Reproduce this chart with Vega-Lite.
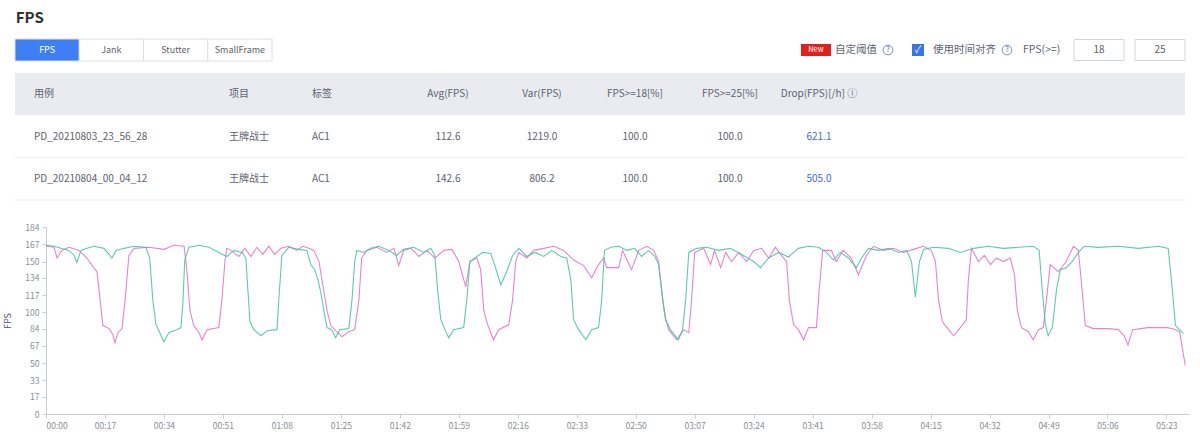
{
  "$schema": "https://vega.github.io/schema/vega-lite/v6.json",
  "background": "#ffffff",
  "padding": {"left": 3, "top": 10, "right": 6, "bottom": 2},
  "config": {"font": "Noto Sans CJK SC", "view": {"stroke": null}},
  "title": {"text": "FPS", "anchor": "start", "fontSize": 15, "fontWeight": "bold", "color": "#303133", "dx": 12, "offset": 12},
  "spacing": 10,
  "datasets": {
    "tabs": [
      {"tab": "FPS", "active": true},
      {"tab": "Jank", "active": false},
      {"tab": "Stutter", "active": false},
      {"tab": "SmallFrame", "active": false}
    ],
    "controls": [
      {"k": 0, "kind": "badge", "label": "New"},
      {"k": 1, "kind": "label", "label": "自定阈值"},
      {"k": 2, "kind": "info", "label": "?"},
      {"k": 3, "kind": "check", "label": "✓"},
      {"k": 4, "kind": "label", "label": "使用时间对齐"},
      {"k": 5, "kind": "info", "label": "?"},
      {"k": 6, "kind": "label", "label": "FPS(>=)"},
      {"k": 7, "kind": "box", "label": "18"},
      {"k": 8, "kind": "box", "label": "25"}
    ],
    "rows": [{"row": "header"}, {"row": "r1"}, {"row": "r2"}],
    "cells": [
      {"row": "header", "col": 0, "label": "用例"},
      {"row": "header", "col": 1, "label": "项目"},
      {"row": "header", "col": 2, "label": "标签"},
      {"row": "header", "col": 3, "label": "Avg(FPS)"},
      {"row": "header", "col": 4, "label": "Var(FPS)"},
      {"row": "header", "col": 5, "label": "FPS>=18[%]"},
      {"row": "header", "col": 6, "label": "FPS>=25[%]"},
      {"row": "header", "col": 7, "label": "Drop(FPS)[/h] ⓘ"},
      {"row": "r1", "col": 0, "label": "PD_20210803_23_56_28"},
      {"row": "r1", "col": 1, "label": "王牌战士"},
      {"row": "r1", "col": 2, "label": "AC1"},
      {"row": "r1", "col": 3, "label": "112.6"},
      {"row": "r1", "col": 4, "label": "1219.0"},
      {"row": "r1", "col": 5, "label": "100.0"},
      {"row": "r1", "col": 6, "label": "100.0"},
      {"row": "r1", "col": 7, "label": "621.1"},
      {"row": "r2", "col": 0, "label": "PD_20210804_00_04_12"},
      {"row": "r2", "col": 1, "label": "王牌战士"},
      {"row": "r2", "col": 2, "label": "AC1"},
      {"row": "r2", "col": 3, "label": "142.6"},
      {"row": "r2", "col": 4, "label": "806.2"},
      {"row": "r2", "col": 5, "label": "100.0"},
      {"row": "r2", "col": 6, "label": "100.0"},
      {"row": "r2", "col": 7, "label": "505.0"}
    ],
    "fps": [
      {"run": "20210803", "time": 0, "fps": 165}, {"run": "20210803", "time": 2.3, "fps": 164}, {"run": "20210803", "time": 3.2, "fps": 153.5}, {"run": "20210803", "time": 4.6, "fps": 161}, {"run": "20210803", "time": 6.6, "fps": 164}, {"run": "20210803", "time": 9.5, "fps": 161}, {"run": "20210803", "time": 11.8, "fps": 153.5}, {"run": "20210803", "time": 13.3, "fps": 146}, {"run": "20210803", "time": 14.7, "fps": 140}, {"run": "20210803", "time": 15.6, "fps": 112}, {"run": "20210803", "time": 16.4, "fps": 87}, {"run": "20210803", "time": 18.2, "fps": 84}, {"run": "20210803", "time": 19.3, "fps": 78}, {"run": "20210803", "time": 19.9, "fps": 70}, {"run": "20210803", "time": 20.7, "fps": 80}, {"run": "20210803", "time": 21.9, "fps": 84}, {"run": "20210803", "time": 22.8, "fps": 112}, {"run": "20210803", "time": 23.9, "fps": 156}, {"run": "20210803", "time": 25.4, "fps": 163}, {"run": "20210803", "time": 29.7, "fps": 164}, {"run": "20210803", "time": 34, "fps": 162}, {"run": "20210803", "time": 36.9, "fps": 166}, {"run": "20210803", "time": 39.8, "fps": 165}, {"run": "20210803", "time": 40.6, "fps": 142}, {"run": "20210803", "time": 41.5, "fps": 102}, {"run": "20210803", "time": 42.6, "fps": 87}, {"run": "20210803", "time": 44.1, "fps": 80}, {"run": "20210803", "time": 45, "fps": 73}, {"run": "20210803", "time": 46.4, "fps": 83}, {"run": "20210803", "time": 49.8, "fps": 85}, {"run": "20210803", "time": 50.7, "fps": 112}, {"run": "20210803", "time": 51.6, "fps": 151}, {"run": "20210803", "time": 52.1, "fps": 163}, {"run": "20210803", "time": 53.3, "fps": 161}, {"run": "20210803", "time": 55.6, "fps": 155}, {"run": "20210803", "time": 57.3, "fps": 163}, {"run": "20210803", "time": 59.1, "fps": 155}, {"run": "20210803", "time": 60.8, "fps": 164}, {"run": "20210803", "time": 62.5, "fps": 157}, {"run": "20210803", "time": 64.2, "fps": 165}, {"run": "20210803", "time": 65.9, "fps": 157}, {"run": "20210803", "time": 67.7, "fps": 163}, {"run": "20210803", "time": 70, "fps": 165}, {"run": "20210803", "time": 72.3, "fps": 161}, {"run": "20210803", "time": 74, "fps": 165}, {"run": "20210803", "time": 75.8, "fps": 163}, {"run": "20210803", "time": 77.2, "fps": 161}, {"run": "20210803", "time": 78.7, "fps": 150}, {"run": "20210803", "time": 79.8, "fps": 127}, {"run": "20210803", "time": 81, "fps": 102}, {"run": "20210803", "time": 82.1, "fps": 87}, {"run": "20210803", "time": 83.8, "fps": 81}, {"run": "20210803", "time": 85.3, "fps": 76}, {"run": "20210803", "time": 87.3, "fps": 81}, {"run": "20210803", "time": 89, "fps": 83}, {"run": "20210803", "time": 90.2, "fps": 112}, {"run": "20210803", "time": 91, "fps": 153.5}, {"run": "20210803", "time": 92.5, "fps": 161}, {"run": "20210803", "time": 95.4, "fps": 164}, {"run": "20210803", "time": 98.2, "fps": 159}, {"run": "20210803", "time": 100.3, "fps": 163}, {"run": "20210803", "time": 101.7, "fps": 146}, {"run": "20210803", "time": 103.1, "fps": 161}, {"run": "20210803", "time": 105.2, "fps": 163}, {"run": "20210803", "time": 107.5, "fps": 155}, {"run": "20210803", "time": 109.8, "fps": 161}, {"run": "20210803", "time": 112.1, "fps": 153.5}, {"run": "20210803", "time": 114.7, "fps": 161}, {"run": "20210803", "time": 117, "fps": 162}, {"run": "20210803", "time": 119, "fps": 150}, {"run": "20210803", "time": 121, "fps": 125}, {"run": "20210803", "time": 122.2, "fps": 150}, {"run": "20210803", "time": 124.2, "fps": 153.5}, {"run": "20210803", "time": 125.3, "fps": 142}, {"run": "20210803", "time": 126.2, "fps": 102}, {"run": "20210803", "time": 127.3, "fps": 88}, {"run": "20210803", "time": 129, "fps": 73}, {"run": "20210803", "time": 130.5, "fps": 83}, {"run": "20210803", "time": 133.4, "fps": 88}, {"run": "20210803", "time": 134.5, "fps": 112}, {"run": "20210803", "time": 135.4, "fps": 150}, {"run": "20210803", "time": 136.3, "fps": 159}, {"run": "20210803", "time": 138.6, "fps": 153.5}, {"run": "20210803", "time": 140.6, "fps": 161}, {"run": "20210803", "time": 143.5, "fps": 163}, {"run": "20210803", "time": 146.4, "fps": 165}, {"run": "20210803", "time": 149.2, "fps": 161}, {"run": "20210803", "time": 152.1, "fps": 151.5}, {"run": "20210803", "time": 155, "fps": 146}, {"run": "20210803", "time": 157.3, "fps": 134}, {"run": "20210803", "time": 159.3, "fps": 147}, {"run": "20210803", "time": 160.8, "fps": 153.5}, {"run": "20210803", "time": 161.6, "fps": 144}, {"run": "20210803", "time": 165.1, "fps": 144}, {"run": "20210803", "time": 166.2, "fps": 161}, {"run": "20210803", "time": 168.8, "fps": 142}, {"run": "20210803", "time": 170.9, "fps": 161}, {"run": "20210803", "time": 173.2, "fps": 165}, {"run": "20210803", "time": 175.2, "fps": 161}, {"run": "20210803", "time": 176.6, "fps": 150}, {"run": "20210803", "time": 177.8, "fps": 112}, {"run": "20210803", "time": 178.6, "fps": 94}, {"run": "20210803", "time": 179.5, "fps": 83}, {"run": "20210803", "time": 181.8, "fps": 73}, {"run": "20210803", "time": 183.8, "fps": 83}, {"run": "20210803", "time": 185.3, "fps": 80}, {"run": "20210803", "time": 186.1, "fps": 112}, {"run": "20210803", "time": 187, "fps": 159}, {"run": "20210803", "time": 189.6, "fps": 163}, {"run": "20210803", "time": 191.6, "fps": 147}, {"run": "20210803", "time": 192.7, "fps": 161}, {"run": "20210803", "time": 194.5, "fps": 144}, {"run": "20210803", "time": 195.9, "fps": 159}, {"run": "20210803", "time": 197.6, "fps": 150}, {"run": "20210803", "time": 199.7, "fps": 159}, {"run": "20210803", "time": 202, "fps": 150}, {"run": "20210803", "time": 204, "fps": 161}, {"run": "20210803", "time": 206.3, "fps": 163}, {"run": "20210803", "time": 208.3, "fps": 153.5}, {"run": "20210803", "time": 210.3, "fps": 164}, {"run": "20210803", "time": 212, "fps": 156}, {"run": "20210803", "time": 213.5, "fps": 150}, {"run": "20210803", "time": 214.3, "fps": 112}, {"run": "20210803", "time": 215.5, "fps": 88}, {"run": "20210803", "time": 216.9, "fps": 83}, {"run": "20210803", "time": 218.4, "fps": 73}, {"run": "20210803", "time": 219.8, "fps": 85}, {"run": "20210803", "time": 222.1, "fps": 85}, {"run": "20210803", "time": 222.9, "fps": 122}, {"run": "20210803", "time": 223.9, "fps": 161}, {"run": "20210803", "time": 226.4, "fps": 161}, {"run": "20210803", "time": 227.8, "fps": 150}, {"run": "20210803", "time": 229.8, "fps": 161}, {"run": "20210803", "time": 232.1, "fps": 153.5}, {"run": "20210803", "time": 234.2, "fps": 137}, {"run": "20210803", "time": 236.5, "fps": 156}, {"run": "20210803", "time": 238.5, "fps": 165}, {"run": "20210803", "time": 241.4, "fps": 161}, {"run": "20210803", "time": 244.3, "fps": 163}, {"run": "20210803", "time": 247.2, "fps": 159}, {"run": "20210803", "time": 250, "fps": 162}, {"run": "20210803", "time": 253, "fps": 165}, {"run": "20210803", "time": 255.2, "fps": 161}, {"run": "20210803", "time": 256.4, "fps": 150}, {"run": "20210803", "time": 257.3, "fps": 112}, {"run": "20210803", "time": 258.4, "fps": 91}, {"run": "20210803", "time": 260.2, "fps": 83}, {"run": "20210803", "time": 261.6, "fps": 77}, {"run": "20210803", "time": 263.6, "fps": 85}, {"run": "20210803", "time": 265.3, "fps": 93}, {"run": "20210803", "time": 265.9, "fps": 132}, {"run": "20210803", "time": 266.8, "fps": 163}, {"run": "20210803", "time": 268.8, "fps": 150}, {"run": "20210803", "time": 270.5, "fps": 156}, {"run": "20210803", "time": 272.3, "fps": 147}, {"run": "20210803", "time": 274, "fps": 153.5}, {"run": "20210803", "time": 276, "fps": 150}, {"run": "20210803", "time": 278, "fps": 153.5}, {"run": "20210803", "time": 279.2, "fps": 137}, {"run": "20210803", "time": 280, "fps": 102}, {"run": "20210803", "time": 281.2, "fps": 85}, {"run": "20210803", "time": 283.2, "fps": 81}, {"run": "20210803", "time": 284.6, "fps": 73}, {"run": "20210803", "time": 286.1, "fps": 83}, {"run": "20210803", "time": 287.5, "fps": 85}, {"run": "20210803", "time": 288.4, "fps": 112}, {"run": "20210803", "time": 289.5, "fps": 147}, {"run": "20210803", "time": 291.8, "fps": 140}, {"run": "20210803", "time": 294.1, "fps": 150}, {"run": "20210803", "time": 296.2, "fps": 165}, {"run": "20210803", "time": 297.6, "fps": 161}, {"run": "20210803", "time": 298.7, "fps": 122}, {"run": "20210803", "time": 299.6, "fps": 87}, {"run": "20210803", "time": 301.9, "fps": 84}, {"run": "20210803", "time": 306.2, "fps": 84}, {"run": "20210803", "time": 309.1, "fps": 83}, {"run": "20210803", "time": 310.8, "fps": 77}, {"run": "20210803", "time": 311.9, "fps": 68}, {"run": "20210803", "time": 313.3, "fps": 83}, {"run": "20210803", "time": 317.6, "fps": 85}, {"run": "20210803", "time": 323.4, "fps": 85}, {"run": "20210803", "time": 325.7, "fps": 83}, {"run": "20210803", "time": 326.8, "fps": 81}, {"run": "20210803", "time": 328.4, "fps": 48},
      {"run": "20210804", "time": 0, "fps": 166}, {"run": "20210804", "time": 2.3, "fps": 165}, {"run": "20210804", "time": 4.3, "fps": 163}, {"run": "20210804", "time": 6.6, "fps": 161}, {"run": "20210804", "time": 8.1, "fps": 156}, {"run": "20210804", "time": 8.9, "fps": 149}, {"run": "20210804", "time": 10.1, "fps": 161}, {"run": "20210804", "time": 11.8, "fps": 163}, {"run": "20210804", "time": 13.8, "fps": 165}, {"run": "20210804", "time": 16.7, "fps": 163}, {"run": "20210804", "time": 19, "fps": 153.5}, {"run": "20210804", "time": 20.2, "fps": 161}, {"run": "20210804", "time": 22.5, "fps": 163}, {"run": "20210804", "time": 25.4, "fps": 165}, {"run": "20210804", "time": 28.8, "fps": 164}, {"run": "20210804", "time": 29.9, "fps": 153.5}, {"run": "20210804", "time": 30.8, "fps": 112}, {"run": "20210804", "time": 31.7, "fps": 88}, {"run": "20210804", "time": 32.8, "fps": 80}, {"run": "20210804", "time": 34, "fps": 71}, {"run": "20210804", "time": 35.4, "fps": 80}, {"run": "20210804", "time": 37.7, "fps": 83}, {"run": "20210804", "time": 38.9, "fps": 85}, {"run": "20210804", "time": 39.5, "fps": 112}, {"run": "20210804", "time": 40, "fps": 151.5}, {"run": "20210804", "time": 41.2, "fps": 164}, {"run": "20210804", "time": 44.1, "fps": 166}, {"run": "20210804", "time": 47, "fps": 164}, {"run": "20210804", "time": 49.8, "fps": 159}, {"run": "20210804", "time": 52.1, "fps": 155}, {"run": "20210804", "time": 54.2, "fps": 161}, {"run": "20210804", "time": 56.5, "fps": 159}, {"run": "20210804", "time": 57.6, "fps": 153.5}, {"run": "20210804", "time": 58.2, "fps": 122}, {"run": "20210804", "time": 58.8, "fps": 91}, {"run": "20210804", "time": 59.9, "fps": 83}, {"run": "20210804", "time": 62, "fps": 77}, {"run": "20210804", "time": 63.7, "fps": 82}, {"run": "20210804", "time": 66.6, "fps": 83}, {"run": "20210804", "time": 67.1, "fps": 112}, {"run": "20210804", "time": 68, "fps": 156}, {"run": "20210804", "time": 70, "fps": 164}, {"run": "20210804", "time": 72.9, "fps": 162}, {"run": "20210804", "time": 75.2, "fps": 161}, {"run": "20210804", "time": 76.3, "fps": 147}, {"run": "20210804", "time": 77.5, "fps": 142}, {"run": "20210804", "time": 78.4, "fps": 132}, {"run": "20210804", "time": 79.2, "fps": 120}, {"run": "20210804", "time": 80.1, "fps": 102}, {"run": "20210804", "time": 81, "fps": 85}, {"run": "20210804", "time": 82.4, "fps": 83}, {"run": "20210804", "time": 83.5, "fps": 75}, {"run": "20210804", "time": 84.7, "fps": 83}, {"run": "20210804", "time": 87.3, "fps": 84}, {"run": "20210804", "time": 88.2, "fps": 112}, {"run": "20210804", "time": 89, "fps": 150}, {"run": "20210804", "time": 89.6, "fps": 161}, {"run": "20210804", "time": 91.6, "fps": 159}, {"run": "20210804", "time": 93.6, "fps": 163}, {"run": "20210804", "time": 95.9, "fps": 165}, {"run": "20210804", "time": 98.8, "fps": 161}, {"run": "20210804", "time": 101.1, "fps": 156}, {"run": "20210804", "time": 103.1, "fps": 162}, {"run": "20210804", "time": 106, "fps": 164}, {"run": "20210804", "time": 108.9, "fps": 159}, {"run": "20210804", "time": 110.9, "fps": 163}, {"run": "20210804", "time": 112.1, "fps": 156}, {"run": "20210804", "time": 112.9, "fps": 122}, {"run": "20210804", "time": 113.8, "fps": 93}, {"run": "20210804", "time": 115, "fps": 83}, {"run": "20210804", "time": 116.1, "fps": 75}, {"run": "20210804", "time": 117.5, "fps": 83}, {"run": "20210804", "time": 120.4, "fps": 85}, {"run": "20210804", "time": 121.3, "fps": 112}, {"run": "20210804", "time": 122.2, "fps": 150}, {"run": "20210804", "time": 123.6, "fps": 153.5}, {"run": "20210804", "time": 125.9, "fps": 159}, {"run": "20210804", "time": 128.2, "fps": 158}, {"run": "20210804", "time": 129.6, "fps": 144}, {"run": "20210804", "time": 131.1, "fps": 127}, {"run": "20210804", "time": 132.8, "fps": 140}, {"run": "20210804", "time": 134.5, "fps": 156}, {"run": "20210804", "time": 136.3, "fps": 163}, {"run": "20210804", "time": 138.6, "fps": 155}, {"run": "20210804", "time": 140.9, "fps": 159}, {"run": "20210804", "time": 143.5, "fps": 155}, {"run": "20210804", "time": 145.8, "fps": 161}, {"run": "20210804", "time": 148.4, "fps": 155}, {"run": "20210804", "time": 150.1, "fps": 153.5}, {"run": "20210804", "time": 151.3, "fps": 132}, {"run": "20210804", "time": 152.1, "fps": 93}, {"run": "20210804", "time": 153.2, "fps": 85}, {"run": "20210804", "time": 155.6, "fps": 73}, {"run": "20210804", "time": 157.3, "fps": 83}, {"run": "20210804", "time": 159.3, "fps": 85}, {"run": "20210804", "time": 160.2, "fps": 112}, {"run": "20210804", "time": 161, "fps": 161}, {"run": "20210804", "time": 162.8, "fps": 164}, {"run": "20210804", "time": 165.1, "fps": 165}, {"run": "20210804", "time": 167.4, "fps": 161}, {"run": "20210804", "time": 169.7, "fps": 163}, {"run": "20210804", "time": 171.7, "fps": 155}, {"run": "20210804", "time": 173.7, "fps": 161}, {"run": "20210804", "time": 175.5, "fps": 155}, {"run": "20210804", "time": 176.6, "fps": 147}, {"run": "20210804", "time": 177.8, "fps": 112}, {"run": "20210804", "time": 178.6, "fps": 93}, {"run": "20210804", "time": 180, "fps": 83}, {"run": "20210804", "time": 182.3, "fps": 73}, {"run": "20210804", "time": 183.5, "fps": 83}, {"run": "20210804", "time": 184.4, "fps": 112}, {"run": "20210804", "time": 185.3, "fps": 159}, {"run": "20210804", "time": 187.6, "fps": 163}, {"run": "20210804", "time": 190.4, "fps": 164}, {"run": "20210804", "time": 193.9, "fps": 161}, {"run": "20210804", "time": 197.3, "fps": 163}, {"run": "20210804", "time": 201.1, "fps": 156}, {"run": "20210804", "time": 204, "fps": 150}, {"run": "20210804", "time": 206, "fps": 144}, {"run": "20210804", "time": 208.3, "fps": 153.5}, {"run": "20210804", "time": 211.2, "fps": 159}, {"run": "20210804", "time": 214, "fps": 154.5}, {"run": "20210804", "time": 216.9, "fps": 163}, {"run": "20210804", "time": 219.8, "fps": 165}, {"run": "20210804", "time": 222.7, "fps": 164}, {"run": "20210804", "time": 225, "fps": 159}, {"run": "20210804", "time": 227, "fps": 151.5}, {"run": "20210804", "time": 229, "fps": 159}, {"run": "20210804", "time": 231.3, "fps": 153.5}, {"run": "20210804", "time": 233.6, "fps": 144}, {"run": "20210804", "time": 235.1, "fps": 153.5}, {"run": "20210804", "time": 237.1, "fps": 163}, {"run": "20210804", "time": 240, "fps": 161}, {"run": "20210804", "time": 242.9, "fps": 163}, {"run": "20210804", "time": 245.8, "fps": 159}, {"run": "20210804", "time": 248.1, "fps": 161}, {"run": "20210804", "time": 249.5, "fps": 150}, {"run": "20210804", "time": 250.6, "fps": 115}, {"run": "20210804", "time": 251.8, "fps": 150}, {"run": "20210804", "time": 253, "fps": 162}, {"run": "20210804", "time": 255.8, "fps": 164}, {"run": "20210804", "time": 260.2, "fps": 163}, {"run": "20210804", "time": 263.6, "fps": 159}, {"run": "20210804", "time": 267.4, "fps": 163}, {"run": "20210804", "time": 271.7, "fps": 165}, {"run": "20210804", "time": 276, "fps": 163}, {"run": "20210804", "time": 280.3, "fps": 164}, {"run": "20210804", "time": 284.6, "fps": 165}, {"run": "20210804", "time": 286.3, "fps": 161}, {"run": "20210804", "time": 287.2, "fps": 122}, {"run": "20210804", "time": 288.1, "fps": 88}, {"run": "20210804", "time": 288.9, "fps": 77}, {"run": "20210804", "time": 290.1, "fps": 85}, {"run": "20210804", "time": 291.3, "fps": 122}, {"run": "20210804", "time": 292.4, "fps": 142}, {"run": "20210804", "time": 294.1, "fps": 144}, {"run": "20210804", "time": 295.8, "fps": 150}, {"run": "20210804", "time": 297.6, "fps": 159}, {"run": "20210804", "time": 299.3, "fps": 165}, {"run": "20210804", "time": 303.3, "fps": 164}, {"run": "20210804", "time": 309.1, "fps": 165}, {"run": "20210804", "time": 314.9, "fps": 163}, {"run": "20210804", "time": 320.7, "fps": 165}, {"run": "20210804", "time": 323.5, "fps": 163}, {"run": "20210804", "time": 324.7, "fps": 122}, {"run": "20210804", "time": 325.6, "fps": 87}, {"run": "20210804", "time": 326.8, "fps": 83}, {"run": "20210804", "time": 327.9, "fps": 79}
    ]
  },
  "vconcat": [
    {
      "width": 1143,
      "height": 22,
      "layer": [
        {
          "data": {"name": "tabs"},
          "encoding": {
            "x": {"field": "tab", "type": "nominal", "sort": null, "axis": null, "scale": {"type": "band", "range": [-31, 226], "paddingInner": 0, "paddingOuter": 0}}
          },
          "layer": [
            {
              "mark": {"type": "rect", "stroke": "#dcdfe6", "strokeWidth": 1},
              "encoding": {"fill": {"condition": {"test": "datum.active", "value": "#3e7ff4"}, "value": "#ffffff"}}
            },
            {
              "mark": {"type": "text", "fontSize": 9},
              "encoding": {
                "text": {"field": "tab"},
                "color": {"condition": {"test": "datum.active", "value": "#ffffff"}, "value": "#606266"}
              }
            }
          ]
        },
        {
          "data": {"name": "controls"},
          "encoding": {
            "x": {"field": "k", "type": "quantitative", "axis": null, "scale": {"domain": [0, 1, 2, 3, 4, 5, 6, 7, 8], "range": [770, 789, 842, 872, 887, 961, 977, 1053, 1114], "zero": false, "nice": false}}
          },
          "layer": [
            {
              "transform": [{"filter": "datum.kind === 'badge'"}],
              "mark": {"type": "point", "shape": "M-1,-0.4L1,-0.4L1,0.4L-1,0.4Z", "size": 900, "filled": true, "fill": "#e0201c", "opacity": 1}
            },
            {
              "transform": [{"filter": "datum.kind === 'check'"}],
              "mark": {"type": "point", "shape": "square", "size": 144, "filled": true, "fill": "#3b73e8", "opacity": 1}
            },
            {
              "transform": [{"filter": "datum.kind === 'info'"}],
              "mark": {"type": "point", "shape": "circle", "size": 95, "filled": true, "fill": "#ffffff", "stroke": "#7f92c9", "strokeWidth": 1, "opacity": 1}
            },
            {
              "transform": [{"filter": "datum.kind === 'box'"}],
              "mark": {"type": "point", "shape": "M-1,-0.42L1,-0.42L1,0.42L-1,0.42Z", "size": 2500, "filled": true, "fill": "#ffffff", "stroke": "#d3d5dc", "strokeWidth": 1, "opacity": 1}
            },
            {
              "transform": [{"filter": "datum.kind === 'label'"}],
              "mark": {"type": "text", "align": "left", "fontSize": 10.5, "color": "#60646e"},
              "encoding": {"text": {"field": "label"}}
            },
            {
              "transform": [{"filter": "datum.kind !== 'label'"}],
              "mark": {"type": "text", "align": "center"},
              "encoding": {
                "text": {"field": "label"},
                "size": {"condition": {"test": "datum.kind === 'badge' || datum.kind === 'info'", "value": 7.5}, "value": 10},
                "color": {"condition": {"test": "datum.kind === 'badge' || datum.kind === 'check'", "value": "#ffffff"}, "value": "#606266"}
              }
            }
          ]
        }
      ],
      "resolve": {"scale": {"x": "independent"}}
    },
    {
      "width": 1143,
      "height": 140,
      "encoding": {
        "y": {"field": "row", "type": "nominal", "sort": null, "axis": null, "scale": {"type": "band", "domain": ["header", "r1", "r2"], "range": [0, 127], "paddingInner": 0, "paddingOuter": 0}}
      },
      "layer": [
        {
          "data": {"name": "rows"},
          "mark": {"type": "rect"},
          "encoding": {
            "x": {"datum": -1, "type": "quantitative", "axis": null, "scale": {"domain": [-1, 0, 1, 2, 3, 4, 5, 6, 7, 8], "range": [-31, -12, 183, 266, 402, 496, 589, 684, 773, 1139], "zero": false, "nice": false}},
            "x2": {"datum": 8},
            "fill": {"condition": {"test": "datum.row === 'header'", "value": "#e9ebf1"}, "value": "#ffffff"}
          }
        },
        {
          "data": {"name": "rows"},
          "transform": [{"filter": "datum.row !== 'header'"}],
          "mark": {"type": "rule", "color": "#ebedf2", "strokeWidth": 1},
          "encoding": {
            "y": {"field": "row", "type": "nominal", "sort": null, "axis": null, "bandPosition": 1},
            "x": {"datum": -1, "type": "quantitative", "axis": null},
            "x2": {"datum": 8}
          }
        },
        {
          "data": {"name": "cells"},
          "transform": [{"filter": "datum.col < 3"}],
          "mark": {"type": "text", "align": "left", "fontSize": 10},
          "encoding": {
            "x": {"field": "col", "type": "quantitative", "axis": null},
            "text": {"field": "label"},
            "color": {"value": "#5e6270"}
          }
        },
        {
          "data": {"name": "cells"},
          "transform": [{"filter": "datum.col >= 3"}],
          "mark": {"type": "text", "align": "center", "fontSize": 10},
          "encoding": {
            "x": {"field": "col", "type": "quantitative", "axis": null},
            "text": {"field": "label"},
            "color": {"condition": {"test": "datum.col === 7 && datum.row !== 'header'", "value": "#3a6fcf"}, "value": "#5e6270"}
          }
        }
      ]
    },
    {
      "width": 1143,
      "height": 187,
      "data": {"name": "fps"},
      "mark": {"type": "line", "strokeWidth": 1.1, "opacity": 0.85},
      "encoding": {
        "x": {
          "field": "time", "type": "quantitative",
          "scale": {"domain": [0, 329.5], "nice": false, "zero": false},
          "axis": {"values": [0, 17, 34, 51, 68, 85, 102, 119, 136, 153, 170, 187, 204, 221, 238, 255, 272, 289, 306, 323], "labelExpr": "format(floor(datum.value / 60), '02d') + ':' + format(datum.value % 60, '02d')", "title": null, "grid": false, "labelFontSize": 8.5, "labelColor": "#8a8d96", "domainColor": "#c9ccd6", "tickColor": "#c9ccd6", "tickSize": 4, "labelFlush": true, "labelPadding": 3}
        },
        "y": {
          "field": "fps", "type": "quantitative",
          "scale": {"domain": [0, 184], "nice": false},
          "axis": {"values": [0, 17, 33, 50, 67, 84, 100, 117, 134, 150, 167, 184], "title": "FPS", "grid": false, "labelFontSize": 8.5, "labelColor": "#8a8d96", "domainColor": "#c9ccd6", "tickColor": "#c9ccd6", "tickSize": 4, "labelPadding": 3, "titleFontSize": 9, "titleFontWeight": "normal", "titleColor": "#555a66", "titlePadding": 12}
        },
        "color": {"field": "run", "type": "nominal", "scale": {"domain": ["20210803", "20210804"], "range": ["#e270c6", "#3fc2a2"]}, "legend": null}
      }
    }
  ]
}
